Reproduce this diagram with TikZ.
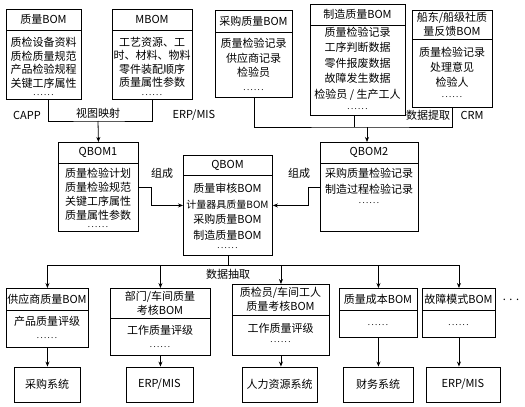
\documentclass[tikz,border=0pt]{standalone}
\usepackage{fontspec}
\setmainfont{Noto Sans CJK SC}
\usetikzlibrary{arrows.meta}
\tikzset{
 frame/.style={draw, line width=0.9pt, inner sep=0pt, fill=white},
 divline/.style={line width=0.8pt},
 ttl/.style={align=center, inner sep=0pt, font=\fontsize{11}{14}\selectfont},
 dotsty/.style={inner sep=0pt, font=\fontsize{8}{8}\selectfont},
 lbl/.style={inner sep=0pt, font=\fontsize{11}{13}\selectfont},
 conn/.style={line width=0.8pt},
 arr/.style={conn, -{Stealth[length=5pt,width=4pt]}},
}
\newcommand\bomframe[7]{%
  \node[frame, minimum width={(#4-#2)*1pt}, minimum height={(#5-#3)*1pt}, anchor=north west] (#1) at (#2,#3) {};
  \draw[divline] (#2,#6) -- (#4,#6);
  \node[ttl] (#1-t) at ({(#2+#4)/2},{(#3+#6)/2}) {#7};
}
\newcommand\bombody[5]{%
  \node[align=center, inner sep=0pt, anchor=north, font=\fontsize{11}{#4}\selectfont] (#1-b) at (#2,{#3-5}) {#5};
}
\newcommand\bomdots[3]{%
  \node[dotsty] (#1-d) at (#2,#3) {.\,.\,.\,.\,.\,.};
}
\newcommand\sysbox[6]{%
  \node[frame, font=\fontsize{11}{13}\selectfont, minimum width={(#4-#2)*1pt}, minimum height={(#5-#3)*1pt}] (#1) at ({(#2+#4)/2},{(#3+#5)/2}) {#6};
}
\begin{document}
\begin{tikzpicture}[x=1pt,y=-1pt]
\useasboundingbox (0,0) rectangle (525,407);
\fill[white] (0,0) rectangle (525,407);
% top row
\bomframe{qbom}{6}{9}{81}{99}{30}{质量BOM}
\bombody{qbom}{43.5}{42}{13.5}{质检设备资料\\质检质量规范\\产品检验规程\\关键工序属性}
\bomdots{qbom}{43.5}{95}
\bomframe{mbom}{112}{9}{192}{99}{30}{MBOM}
\bombody{mbom}{152}{42}{13.5}{工艺资源、工\\时、材料、物料\\零件装配顺序\\质量属性参数}
\bomdots{mbom}{152}{95}
\bomframe{cg}{215}{10}{292}{97}{32}{采购质量BOM}
\bombody{cg}{253.5}{43}{14.5}{质量检验记录\\供应商记录\\检验员}
\bomdots{cg}{253.5}{90}
\bomframe{zz}{310}{4}{405}{115}{25}{制造质量BOM}
\bombody{zz}{357.5}{32}{15.4}{质量检验记录\\工序判断数据\\零件报废数据\\故障发生数据\\检验员 / 生产工人}
\bomdots{zz}{357.5}{109}
\bomframe{cd}{412}{10}{492}{107}{39}{船东/船级社质\\量反馈BOM}
\bombody{cd}{452}{52}{15}{质量检验记录\\处理意见\\检验人}
\bomdots{cd}{452}{97}
% middle row
\bomframe{q1}{58}{142}{138}{231}{163}{QBOM1}
\bombody{q1}{98}{173}{14}{质量检验计划\\质量检验规范\\关键工序属性\\质量属性参数}
\bomdots{q1}{98}{227}
\bomframe{q}{183}{155}{272}{255}{175}{QBOM}
\bombody{q}{227.5}{188}{15.5}{质量审核BOM\\{\fontsize{10}{15.5}\selectfont 计量器具质量BOM}\\采购质量BOM\\制造质量BOM}
\bomdots{q}{227.5}{248}
\bomframe{q2}{320}{142}{418}{231}{163}{QBOM2}
\bombody{q2}{369}{173}{15.5}{采购质量检验记录\\制造过程检验记录}
\bomdots{q2}{369}{203}
% bottom BOM row
\bomframe{s1}{6}{288}{88}{347}{310}{供应商质量BOM}
\bombody{s1}{47}{321}{14}{产品质量评级}
\bomdots{s1}{47}{338}
\bomframe{s2}{110}{288}{210}{355}{318}{部门/车间质量\\考核BOM}
\bombody{s2}{160}{330}{14}{工作质量评级}
\bomdots{s2}{160}{347}
\bomframe{s3}{232}{284}{329}{355}{315}{质检员/车间工人\\质量考核BOM}
\bombody{s3}{280.5}{328}{14}{工作质量评级}
\bomdots{s3}{280.5}{342}
\bomframe{s4}{339}{288}{417}{337}{310}{质量成本BOM}
\bomdots{s4}{378}{325}
\bomframe{s5}{422}{288}{495}{337}{310}{故障模式BOM}
\bomdots{s5}{458.5}{325}
% systems
\sysbox{t1}{14}{367}{80}{402}{采购系统}
\sysbox{t2}{126}{367}{193}{402}{ERP/MIS}
\sysbox{t3}{242}{367}{317}{402}{人力资源系统}
\sysbox{t4}{343}{367}{413}{402}{财务系统}
\sysbox{t5}{426}{367}{500}{402}{ERP/MIS}
% labels
\node[lbl] (capp) at (27,115) {CAPP};
\node[lbl] (erp1) at (194,115) {ERP/MIS};
\node[lbl] (stys) at (98,113) {视图映射};
\node[lbl] (sjtq) at (428,115) {数据提取};
\node[lbl] (crm) at (472,115) {CRM};
\node[lbl] (zc1) at (162,173) {组成};
\node[lbl] (zc2) at (299,173) {组成};
\node[lbl] (sjcq) at (228,274) {数据抽取};
\node[lbl] (more) at (511,300) {.\,\,.\,\,.};
% connectors
\coordinate (j1) at (98,121);
\draw[conn] ([xshift=4pt]qbom.south) |- (j1) -| (mbom.south);
\draw[arr] (j1) -- (q1.north);
\coordinate (j2) at (367,127);
\draw[conn] (cg.south) |- (j2) -| (cd.south);
\draw[conn] ([xshift=-4pt]zz.south) -- ([xshift=-4pt]zz.south |- j2);
\draw[arr] (j2) -- (j2 |- q2.north);
\draw[arr] (q1.east) -- ++(12,0) |- (q.west);
\draw[arr] (q2.west) -- ++(-12,0) |- (q.east);
\coordinate (j3) at (228,265);
\draw[conn] (q.south) -- (q.south |- j3);
\draw[conn] (s1.north |- j3) -- (s5.north |- j3);
\foreach \s in {s1,s2,s3,s4,s5}{\draw[arr] (\s.north |- j3) -- (\s.north);}
\foreach \s/\t in {s1/t1,s2/t2,s3/t3,s4/t4,s5/t5}{\draw[arr] (\s.south) -- (\s.south |- \t.north);}
\end{tikzpicture}
\end{document}
